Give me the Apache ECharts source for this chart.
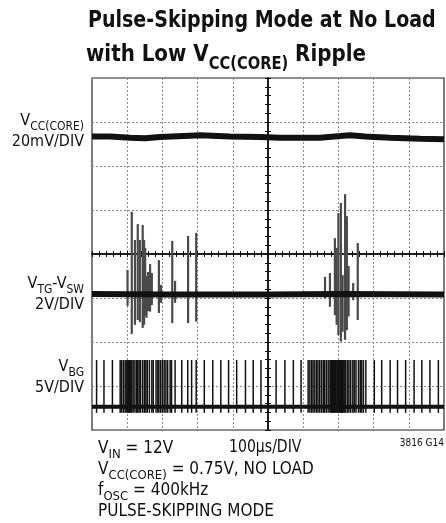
<!DOCTYPE html>
<html>
<head>
<meta charset="utf-8">
<script src="https://cdn.jsdelivr.net/npm/echarts@6/dist/echarts.min.js"></script>
<style>
  html, body { margin: 0; padding: 0; background: #fff; }
  #chart { width: 446px; height: 523px; }
</style>
</head>
<body>
<div id="chart"></div>
<script>
// time in µs relative to the trigger (screen centre), levels in divisions from centre
var vccTrace = [[-500, 2.67], [-449, 2.67], [-392, 2.64], [-349, 2.63], [-307, 2.66], [-222, 2.69], [-193, 2.70], [-108, 2.67], [-23, 2.66], [34, 2.64], [148, 2.64], [205, 2.68], [233, 2.70], [276, 2.67], [347, 2.64], [432, 2.62], [500, 2.61]];
var tgBaseline = [[-500, -0.91], [-300, -0.92], [0, -0.92], [200, -0.91], [500, -0.92]];
// [time, top, bottom] of each switching burst spike on VTG-VSW
var tgSpikes = [
    [-399, -0.36, -1.18], [-387, 0.96, -1.82], [-378, 0.32, -1.61], [-370, 0.68, -1.50], [-364, 0.32, -1.55],
    [-356, 0.66, -1.68], [-352, 0.32, -1.61], [-349, 0.14, -1.40], [-345, -0.50, -1.45], [-341, -0.41, -1.30],
    [-335, -0.23, -1.31], [-330, -0.43, -1.16], [-310, -0.14, -1.34], [-304, -0.70, -1.11], [-272, 0.30, -1.57],
    [-264, -0.61, -1.11], [-227, 0.41, -1.57], [-204, 0.48, -1.54],
    [162, -0.52, -1.00], [176, -0.43, -1.20], [190, 0.36, -1.39], [195, 0.14, -1.61], [200, 0.93, -1.84],
    [207, 1.16, -1.99], [212, -0.48, -1.77], [219, 1.36, -1.95], [224, 0.86, -1.73], [229, -0.27, -1.42],
    [242, -0.66, -1.05], [255, 0.25, -1.50]
];
var bgBaseline = [[-500, -3.47], [500, -3.47]];
var bgHigh = -2.41;
var bgLow = -3.61;
// bottom gate pulse times
var bgPulses = [
    -487, -466, -442,
    -420, -416, -411, -406, -403, -400, -397, -394, -390, -387, -383, -378, -373, -370, -366, -362, -356, -351,
    -347, -343, -337, -330, -326, -318, -313, -310, -305, -300, -295, -290, -285, -278, -274, -264, -245, -228,
    -217, -204,
    -181, -157, -134, -112, -89, -64, -42, -20, 1, 23, 48, 72, 94,
    114, 119, 124, 128, 133, 138, 142, 147, 152, 157, 161, 166, 171,
    176, 178.5, 181, 183.5, 186, 188.5, 191, 193.5, 196, 198.5, 201, 203.5, 206, 208.5, 211, 213.5, 216, 218.5, 221,
    226, 230, 235, 241, 245, 250, 257, 262, 266, 271, 278,
    302, 323, 347, 368, 391, 415, 437, 460, 484
];

var FONT = '"DejaVu Sans Condensed", sans-serif';

function vline(color, width) {
    return function (params, api) {
        var a = api.coord([api.value(0), api.value(1)]);
        var b = api.coord([api.value(0), api.value(2)]);
        return {
            type: 'line',
            shape: { x1: a[0], y1: a[1], x2: b[0], y2: b[1] },
            style: { stroke: color, lineWidth: width }
        };
    };
}

function txt(x, y, text, size, align, bold, sx) {
    var w = bold ? 'bold' : 'normal';
    return {
        type: 'text', x: x, y: y, z: 100, scaleX: sx || 1,
        style: {
            text: text, fill: '#111', align: align || 'left', verticalAlign: 'top',
            fontFamily: FONT, fontSize: size, fontWeight: w,
            rich: {
                m: { fontFamily: FONT, fontSize: size, fontWeight: w, lineHeight: size + 1, padding: [0, 0, Math.round(size * 0.25), 0], verticalAlign: 'bottom' },
                s: { fontFamily: FONT, fontSize: Math.round(size * 0.75), fontWeight: w, lineHeight: Math.round(size * 0.8), verticalAlign: 'bottom' }
            }
        }
    };
}

function centreAxis(dim, pos) {
    var ax = {
        type: 'value', position: pos, min: -4, max: 4, interval: 1,
        axisLine: { show: true, onZero: true, lineStyle: { color: '#111', width: 1.5 } },
        axisTick: { show: true, length: 3, lineStyle: { color: '#111' } },
        minorTick: { show: true, splitNumber: 5, length: 3, lineStyle: { color: '#111' } },
        axisLabel: { show: false },
        splitLine: { show: false }
    };
    if (dim === 'x') { ax.min = -500; ax.max = 500; ax.interval = 100; }
    return ax;
}

var myChart = echarts.init(document.getElementById('chart'));
var xMain = centreAxis('x', 'bottom');
xMain.splitLine = { show: true, lineStyle: { color: '#8a8a8a', type: [2, 2], width: 1 } };
var yMain = centreAxis('y', 'left');
yMain.splitLine = { show: true, lineStyle: { color: '#8a8a8a', type: [2, 2], width: 1 } };

var option = {
    animation: false,
    backgroundColor: '#fff',
    grid: { left: 92, right: 2, top: 78, bottom: 93, show: true, borderColor: '#222', borderWidth: 1.2 },
    xAxis: [xMain, centreAxis('x', 'top')],
    yAxis: [yMain, centreAxis('y', 'right')],
    series: [
        { type: 'line', data: vccTrace, symbol: 'none', lineStyle: { color: '#111', width: 6 } },
        { type: 'custom', data: tgSpikes, encode: { x: 0, y: [1, 2] }, renderItem: vline('#4a4a4a', 2.2) },
        { type: 'line', data: tgBaseline, symbol: 'none', lineStyle: { color: '#111', width: 6 } },
        {
            type: 'custom',
            data: bgPulses.map(function (t) { return [t, bgLow, bgHigh]; }),
            encode: { x: 0, y: [1, 2] },
            renderItem: vline('#111', 1.5)
        },
        { type: 'line', data: bgBaseline, symbol: 'none', lineStyle: { color: '#111', width: 4 } }
    ],
    graphic: [
        txt(88, 10, 'Pulse-Skipping Mode at No Load', 23, 'left', true, 0.92),
        txt(86, 49, '{m|with Low V}{s|CC(CORE)}{m| Ripple}', 23, 'left', true, 0.96),
        txt(84, 116, '{m|V}{s|CC(CORE)}', 16, 'right'),
        txt(84, 134, '20mV/DIV', 16, 'right'),
        txt(84, 279, '{m|V}{s|TG}{m|-V}{s|SW}', 16, 'right'),
        txt(84, 297, '2V/DIV', 16, 'right'),
        txt(84, 362, '{m|V}{s|BG}', 16, 'right'),
        txt(84, 380, '5V/DIV', 16, 'right'),
        txt(98, 443, '{m|V}{s|IN}{m| = 12V}', 17, 'left'),
        txt(229, 439, '100µs/DIV', 17, 'left', false, 0.92),
        txt(444, 438, '3816 G14', 10, 'right'),
        txt(98, 464, '{m|V}{s|CC(CORE)}{m| = 0.75V, NO LOAD}', 17, 'left'),
        txt(98, 485, '{m|f}{s|OSC}{m| = 400kHz}', 17, 'left'),
        txt(98, 503, 'PULSE-SKIPPING MODE', 17, 'left')
    ]
};
myChart.setOption(option);
</script>
</body>
</html>
